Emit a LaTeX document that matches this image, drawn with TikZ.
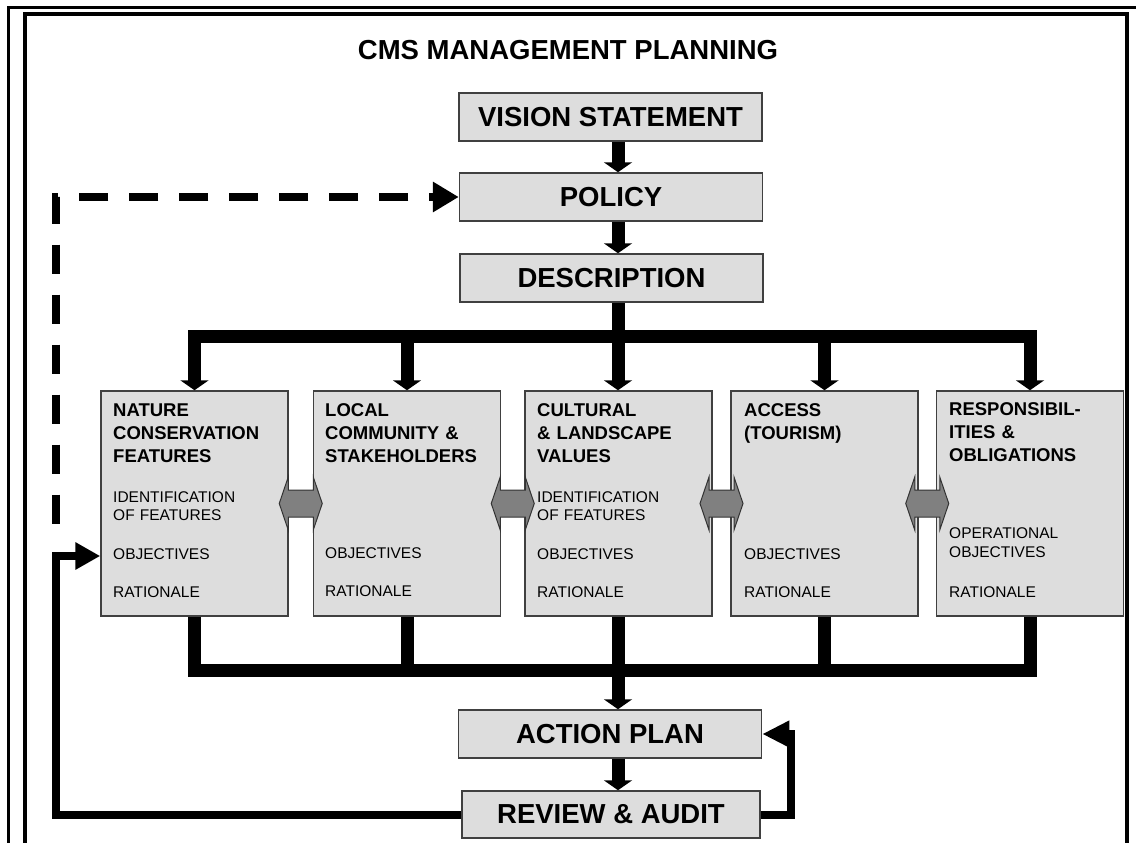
\documentclass[tikz,border=0pt]{standalone}
\usepackage{fontspec}
\setmainfont{Liberation Sans}
\usepackage{tikz}
\usetikzlibrary{calc}
\usetikzlibrary{arrows.meta}
\definecolor{boxgrey}{rgb}{0.867,0.867,0.867}
\definecolor{boxline}{rgb}{0.25,0.25,0.25}
\definecolor{linkgrey}{rgb}{0.5,0.5,0.5}
\definecolor{linkline}{rgb}{0.2,0.2,0.2}
\newcommand{\titlefont}{\fontsize{27.5}{32}\selectfont\bfseries}
\newcommand{\stagefont}{\fontsize{27.5}{32}\selectfont\bfseries}
\newcommand{\headfont}{\fontsize{18.5}{23}\selectfont\bfseries}
\newcommand{\itemfont}{\fontsize{15.5}{18}\selectfont}
% grey two-way arrow between two neighbouring boxes, centred on #1
\newcommand{\linkarrow}[1]{%
  \draw[link,shift={(#1)}] (-21.5,0) -- (-12.5,-26.5) -- (-12.5,-13.5) -- (12.5,-13.5) -- (12.5,-26.5) -- (21.5,0)
    -- (12.5,26.5) -- (12.5,13.5) -- (-12.5,13.5) -- (-12.5,26.5) -- cycle;}
\tikzset{
  stage/.style={draw=boxline,fill=boxgrey,line width=1.5pt,minimum width=303pt,minimum height=48pt,inner sep=0pt,font=\stagefont},
  area/.style={draw=boxline,fill=boxgrey,line width=1.5pt,minimum width=187pt,minimum height=225pt,inner sep=0pt},
  head/.style={anchor=base west,inner sep=0pt,text width=180pt,align=left,font=\headfont},
  item/.style={anchor=base west,inner sep=0pt,text width=180pt,align=left,font=\itemfont},
  bus/.style={line width=13pt,line join=miter},
  flow/.style={bus,-{Triangle[width=28pt,length=10pt]}},
  feedback/.style={line width=8pt,line join=miter},
  link/.style={draw=linkline,fill=linkgrey,line width=1pt}
}
\begin{document}
\begin{tikzpicture}[x=1pt,y=-1pt]
  \useasboundingbox (0,0) rectangle (1136,843);
  % double frame
  \draw[line width=3pt] (8,843) -- (8,8) -- (1140,8);
  \draw[line width=4pt] (25,843) -- (25,14) -- (1127,14) -- (1127,843);
  \node[font=\titlefont] (title) at (568,50) {CMS MANAGEMENT PLANNING};

  % main stages
  \node[stage] (vision) at (610.5,117) {VISION STATEMENT};
  \node[stage] (policy) at (611,197) {POLICY};
  \node[stage] (desc) at (611.5,278) {DESCRIPTION};
  \node[stage] (action) at (610,734) {ACTION PLAN};
  \node[stage,minimum width=298pt,minimum height=47pt] (review) at (611,814.5) {REVIEW \& AUDIT};
  \coordinate (spine) at (618,0);
  \coordinate (topbar) at (618,336);
  \coordinate (lowbar) at (618,670);

  % management areas
  \node[area] (nat) at (194.5,503.5) {};
  \node[area] (loc) at (407,503.5) {};
  \node[area] (cult) at (618.5,503.5) {};
  \node[area] (acc) at (824.5,503.5) {};
  \node[area] (resp) at (1030,503.5) {};

  \node[head] at (113,416.5) {NATURE\\CONSERVATION\\FEATURES};
  \node[item] at (113,502) {IDENTIFICATION\\OF FEATURES};
  \node[item] at (113,559) {OBJECTIVES};
  \node[item] at (113,597) {RATIONALE};

  \node[head] at (325,416.5) {LOCAL\\COMMUNITY \&\\STAKEHOLDERS};
  \node[item] at (325,558) {OBJECTIVES};
  \node[item] at (325,596) {RATIONALE};

  \node[head] at (537,416.5) {CULTURAL\\\& LANDSCAPE\\VALUES};
  \node[item] at (537,502) {IDENTIFICATION\\OF FEATURES};
  \node[item] at (537,559) {OBJECTIVES};
  \node[item] at (537,597) {RATIONALE};

  \node[head] at (744,416.5) {ACCESS\\(TOURISM)};
  \node[item] at (744,559) {OBJECTIVES};
  \node[item] at (744,597) {RATIONALE};

  \node[head] at (949,415.5) {RESPONSIBIL-\\ITIES \&\\OBLIGATIONS};
  \node[item,font=\fontsize{15.5}{19}\selectfont] at (949,538) {OPERATIONAL\\OBJECTIVES};
  \node[item] at (949,597) {RATIONALE};

  % links between areas
  \coordinate (l1) at ($(nat.east)!0.5!(loc.west)$);
  \coordinate (l2) at ($(loc.east)!0.5!(cult.west)$);
  \coordinate (l3) at ($(cult.east)!0.5!(acc.west)$);
  \coordinate (l4) at ($(acc.east)!0.5!(resp.west)$);
  \linkarrow{l1}
  \linkarrow{l2}
  \linkarrow{l3}
  \linkarrow{l4}

  % flow down the spine
  \draw[flow] (vision.south -| spine) -- (policy.north -| spine);
  \draw[flow] (policy.south -| spine) -- (desc.north -| spine);
  \draw[bus] (desc.south -| spine) -- (topbar);
  \draw[flow] (topbar) -| (nat.north);
  \draw[flow] (topbar) -| (loc.north);
  \draw[flow] (topbar) -- (cult.north -| spine);
  \draw[flow] (topbar) -| (acc.north);
  \draw[flow] (topbar) -| (resp.north);
  \draw[bus] (nat.south) |- (lowbar);
  \draw[bus] (loc.south) |- (lowbar);
  \draw[bus] (cult.south -| spine) -- (lowbar);
  \draw[bus] (acc.south) |- (lowbar);
  \draw[bus] (resp.south) |- (lowbar);
  \draw[flow] (lowbar) -- (action.north -| spine);
  \draw[flow] (action.south -| spine) -- (review.north -| spine);

  % review loops
  \coordinate (fbl) at (56,556);
  \coordinate (dashend) at (56,528);
  \draw[feedback,-{Triangle[width=26pt,length=25pt]}] (review.west) -| (fbl) -- (nat.west |- fbl);
  \draw[feedback,-{Triangle[width=25pt,length=27pt]}] (review.east) -| ([xshift=29pt]action.east) -- (action.east);
  \draw[feedback,dash pattern=on 29pt off 21pt,dash phase=24pt,{Triangle[width=29pt,length=26pt]}-] (policy.west) -| (dashend);
\end{tikzpicture}
\end{document}
